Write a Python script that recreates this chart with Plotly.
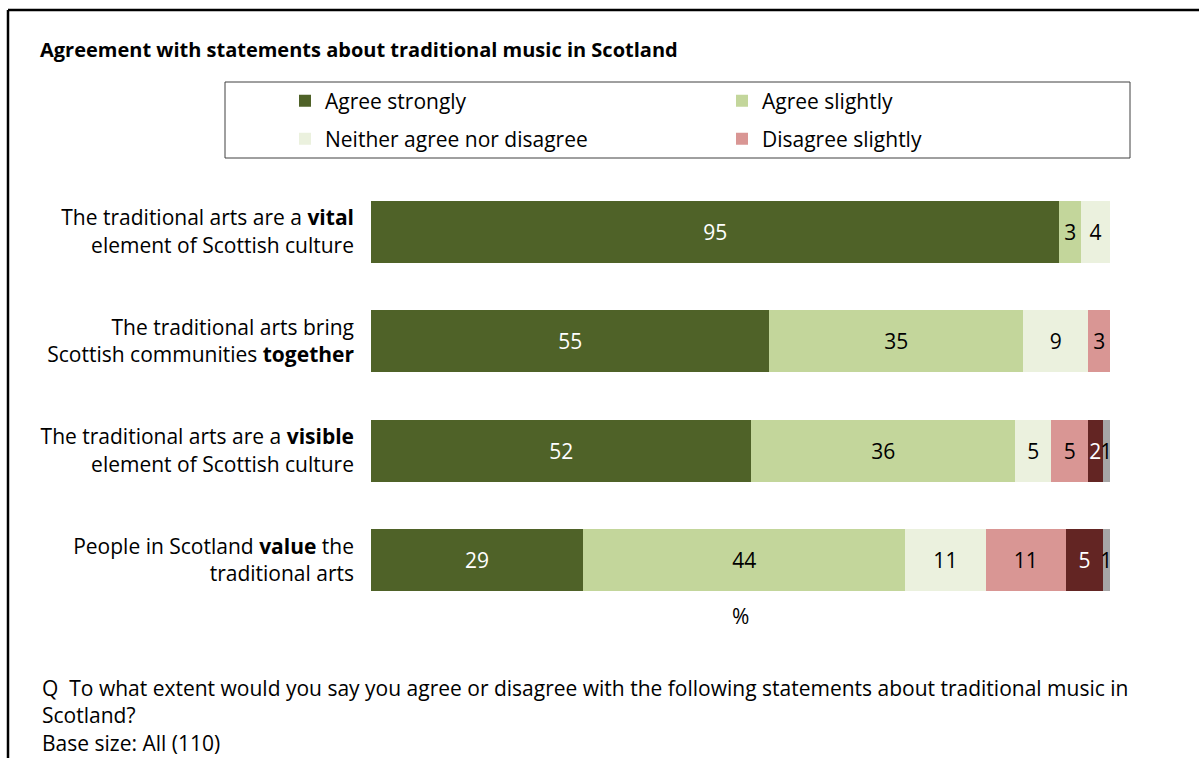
import plotly.graph_objects as go

# Survey statements (top to bottom)
categories = [
    "The traditional arts are a <b>vital</b><br>element of Scottish culture",
    "The traditional arts bring<br>Scottish communities <b>together</b>",
    "The traditional arts are a <b>visible</b><br>element of Scottish culture",
    "People in Scotland <b>value</b> the<br>traditional arts",
]

# Response shares (%), one list per answer option
agree_strongly = [95, 55, 52, 29]
agree_slightly = [3, 35, 36, 44]
neither = [4, 9, 5, 11]
disagree_slightly = [0, 3, 5, 11]
disagree_strongly = [0, 0, 2, 5]
dont_know = [0, 0, 1, 1]

series = [
    ("Agree strongly", agree_strongly, "#4F6228", "white", "legend", True),
    ("Agree slightly", agree_slightly, "#C3D69B", "black", "legend", True),
    ("Neither agree nor disagree", neither, "#EBF1DE", "black", "legend2", True),
    ("Disagree slightly", disagree_slightly, "#D99694", "black", "legend2", True),
    ("Disagree strongly", disagree_strongly, "#632523", "white", "legend", False),
    ("Don't know", dont_know, "#A6A6A6", "black", "legend", False),
]

W, H = 1199, 758
L, R, T, B = 371, 1110, 177, 615  # plot area in pixels
FONT = "Open Sans"
FS = 21


def px_x(x):
    return (x - L) / (R - L)


def px_y(y):
    return (B - y) / (B - T)


fig = go.Figure()
for name, vals, color, txtcolor, leg, show in series:
    fig.add_trace(go.Bar(
        name=name,
        y=categories,
        x=vals,
        orientation="h",
        width=0.57,
        marker=dict(color=color, line=dict(width=0)),
        text=[str(v) if v else "" for v in vals],
        texttemplate="%{text}",
        textposition="inside",
        insidetextanchor="middle",
        textangle=0,
        insidetextfont=dict(family=FONT, size=FS, color=txtcolor),
        legend=leg,
        showlegend=show,
        hoverinfo="name+x",
    ))

legend_common = dict(
    orientation="h",
    entrywidth=392,
    entrywidthmode="pixels",
    xanchor="left",
    yanchor="middle",
    font=dict(family=FONT, size=FS, color="black"),
    bgcolor="rgba(0,0,0,0)",
    borderwidth=0,
    traceorder="normal",
)

fig.update_layout(
    width=W,
    height=H,
    margin=dict(l=L, r=W - R, t=T, b=H - B, pad=0),
    paper_bgcolor="white",
    plot_bgcolor="white",
    barmode="stack",
    barnorm="percent",
    uniformtext=dict(mode="show", minsize=FS),
    font=dict(family=FONT, size=FS, color="black"),
    title=dict(
        text="<b>Agreement with statements about traditional music in Scotland</b>",
        font=dict(family=FONT, size=20, color="black"),
        x=40 / W, xanchor="left", xref="container",
        y=1 - 50 / H, yanchor="middle", yref="container",
    ),
    legend=dict(legend_common, x=px_x(285), y=px_y(101)),
    legend2=dict(legend_common, x=px_x(285), y=px_y(139)),
    xaxis=dict(
        range=[0, 100],
        showgrid=False,
        zeroline=False,
        showline=False,
        showticklabels=False,
        ticks="",
        fixedrange=True,
    ),
    yaxis=dict(
        autorange="reversed",
        showgrid=False,
        zeroline=False,
        showline=False,
        ticks="",
        ticklabelstandoff=16,
        tickfont=dict(family=FONT, size=FS, color="black"),
        fixedrange=True,
    ),
    shapes=[
        # legend frame
        dict(type="rect", xref="paper", yref="paper",
             x0=px_x(225), x1=px_x(1130), y0=px_y(82), y1=px_y(158),
             line=dict(color="#404040", width=1), fillcolor="rgba(0,0,0,0)"),
        # outer chart border (top and left edges)
        dict(type="line", xref="paper", yref="paper",
             x0=px_x(8), x1=px_x(1199), y0=px_y(10), y1=px_y(10),
             line=dict(color="black", width=2.5)),
        dict(type="line", xref="paper", yref="paper",
             x0=px_x(8), x1=px_x(8), y0=px_y(10), y1=px_y(758),
             line=dict(color="black", width=2.5)),
    ],
    annotations=[
        # value-axis unit
        dict(text="%", xref="paper", yref="paper", x=0.5, y=px_y(616),
             xanchor="center", yanchor="middle", showarrow=False,
             font=dict(family=FONT, size=FS, color="black")),
        # question wording and base
        dict(text=("Q  To what extent would you say you agree or disagree with the "
                   "following statements about traditional music in<br>Scotland?"
                   "<br>Base size: All (110)"),
             xref="paper", yref="paper", x=px_x(40), y=px_y(715),
             xanchor="left", yanchor="middle", align="left", showarrow=False,
             font=dict(family=FONT, size=FS, color="black")),
    ],
)

fig.write_html("out.html")
